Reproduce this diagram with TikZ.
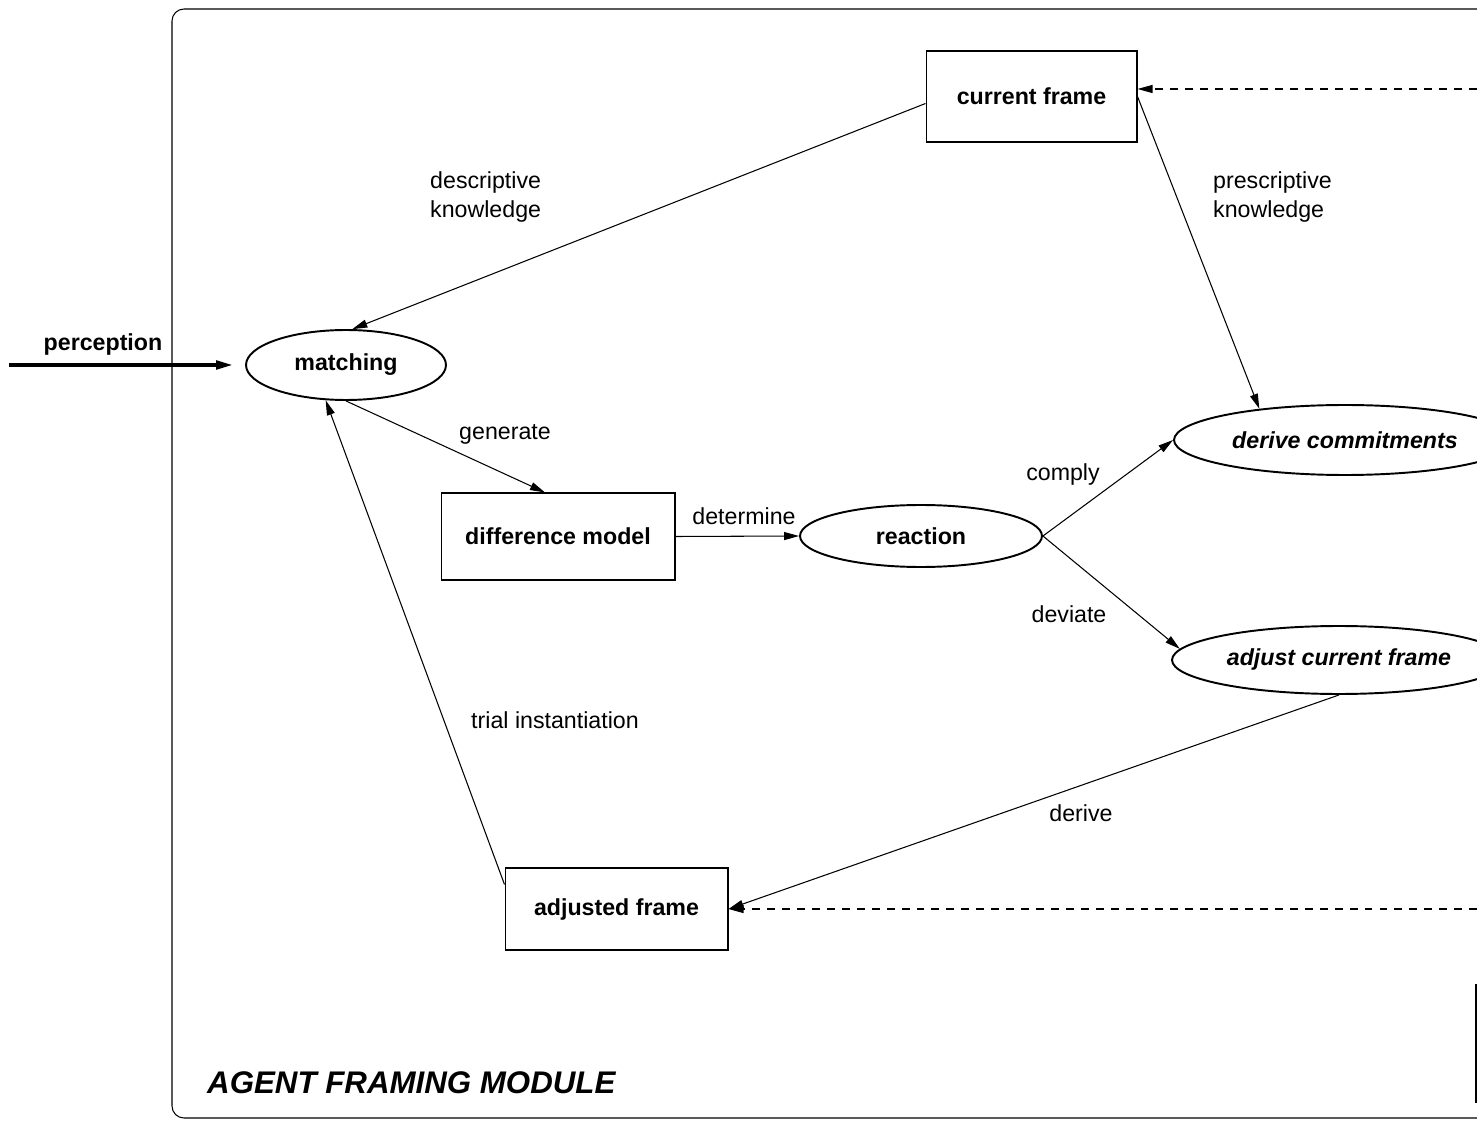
\documentclass[tikz,border=0pt]{standalone}
\usepackage{fontspec}
\setmainfont{Liberation Sans}
\usetikzlibrary{shapes.geometric,arrows.meta}

\begin{document}
\begin{tikzpicture}[x=0.02cm, y=-0.02cm, >={Triangle[length=3mm,width=1.6mm]},
        font=\fontsize{13.2}{16}\selectfont,
        framebox/.style={draw, line width=0.6pt, font=\fontsize{13.2}{16}\selectfont\bfseries},
        actell/.style={draw, ellipse, inner sep=0pt, line width=1.1pt, font=\fontsize{13.2}{16}\selectfont\bfseries},
        flow/.style={->, line width=0.6pt},
        feed/.style={->, line width=0.6pt, dash pattern=on 4.5pt off 4pt}]
        \useasboundingbox (0,0) rectangle (1477,1121);
        \clip (0,0) rectangle (1477,1121);
        % module border
        \draw[line width=0.6pt, rounded corners=0.24cm] (172,9) rectangle (1520,1118);
        \node[anchor=west, font=\fontsize{17.8}{20}\selectfont\bfseries\itshape] (modname) at (201,1083) {AGENT FRAMING MODULE};
        \draw[line width=1.1pt] (1476,984) -- (1476,1103);
        % frames and activities
        \node[framebox, minimum width=4.22cm, minimum height=1.82cm] (cur) at (1031.5,96.5) {current frame};
        \node[actell, minimum width=4cm, minimum height=1.4cm] (match) at (346,365) {matching};
        \node[framebox, minimum width=4.68cm, minimum height=1.74cm] (diff) at (558,536.5) {difference model};
        \node[actell, minimum width=4.84cm, minimum height=1.24cm] (react) at (921,536) {reaction};
        \node[actell, minimum width=6.84cm, minimum height=1.4cm, font=\fontsize{13.2}{16}\selectfont\bfseries\itshape] (der) at (1345,440) {derive commitments};
        \node[actell, minimum width=6.68cm, minimum height=1.36cm, font=\fontsize{13.2}{16}\selectfont\bfseries\itshape] (adj) at (1339,660) {adjust current frame};
        \node[framebox, minimum width=4.46cm, minimum height=1.64cm] (adjf) at (616.5,909) {adjusted frame};
        % input
        \coordinate (percin) at (9,365);
        \draw[-{Triangle[length=3.4mm,width=1.7mm]}, line width=2pt] (percin) -- ([xshift=-0.24cm]match.west);
        \node[font=\fontsize{13.2}{16}\selectfont\bfseries] (perc) at (103,345) {perception};
        % connections
        \draw[flow] ([yshift=-0.14cm]cur.west) -- (match.80);
        \draw[flow] (cur.east) -- (der.160);
        \draw[flow] (match.south) -- ([xshift=-0.26cm]diff.north);
        \draw[flow] (diff.east) -- (react.west);
        \draw[flow] (react.east) -- (der.west);
        \draw[flow] (react.east) -- (adj.176);
        \draw[flow] (adj.south) -- (adjf.east);
        \draw[flow] ([yshift=-0.34cm]adjf.north west) -- (match.240);
        % feedback from outside
        \coordinate (fbtop) at (1477,89);
        \coordinate (fbbot) at (1477,909);
        \draw[feed] (fbtop) -- (cur.east |- fbtop);
        \draw[feed] (fbbot) -- (adjf.east);
        % labels
        \node[anchor=west, align=left] (ldesc) at (424,197) {descriptive\\knowledge};
        \node[anchor=west, align=left] (lpres) at (1207,197) {prescriptive\\knowledge};
        \node (lgen) at (505,434) {generate};
        \node (ldet) at (744,516) {determine};
        \node (lcomp) at (1063,475) {comply};
        \node (ldev) at (1069,614) {deviate};
        \node (ltrial) at (555,720) {trial instantiation};
        \node (lderv) at (1081,813) {derive};
    \end{tikzpicture}
\end{document}
